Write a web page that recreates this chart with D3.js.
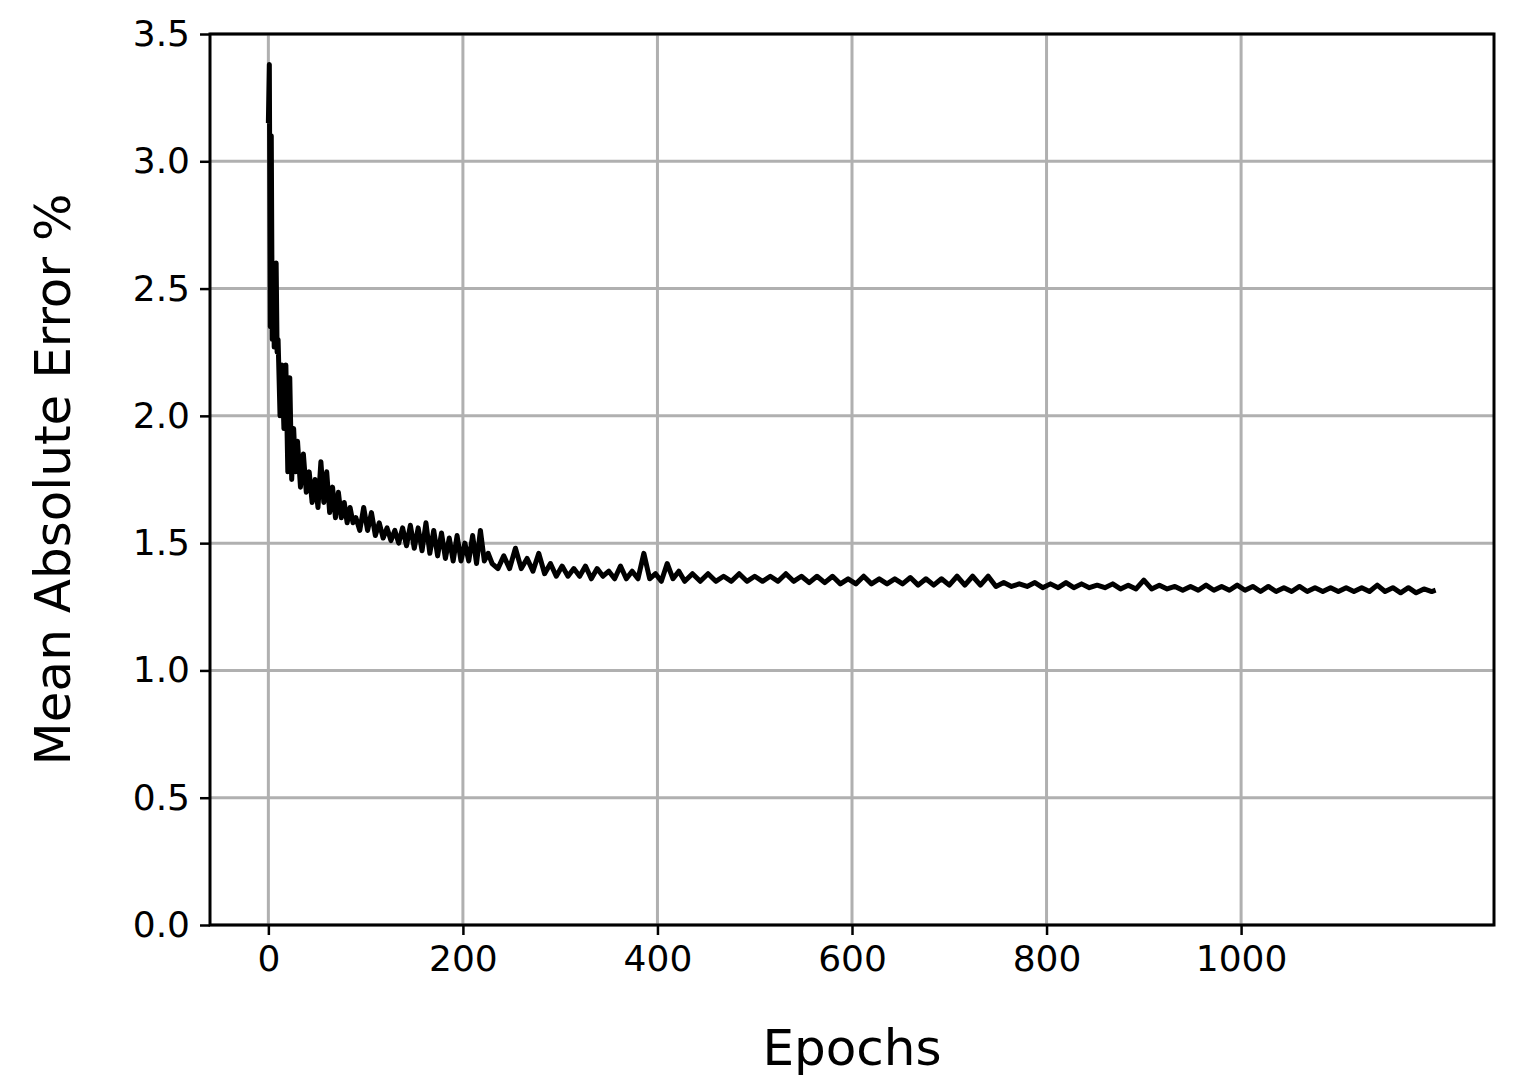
<!DOCTYPE html>
<html>
<head>
<meta charset="UTF-8">
<script src="https://d3js.org/d3.v7.min.js"></script>
<style>
  body { margin: 0; background: #fff; }
  text { font-family: "DejaVu Sans", sans-serif; }
</style>
</head>
<body>
<div class="chart"></div>
<script>
// values
var epochs = [0,1,2,3,4,5,6,7,8,9,10,12,14,16,18,20,22,24,26,28,30,33,36,39,42,45,48,51,54,57,60,63,66,69,72,75,78,81,84,87,90,94,98,102,106,110,114,118,122,126,130,134,138,142,146,150,154,158,162,166,170,174,178,182,186,190,194,198,202,206,210,214,218,222,226,230,
  236,242,248,254,260,266,272,278,284,290,296,302,308,314,320,326,332,338,344,350,356,362,368,374,380,386,392,398,404,410,416,422,
  428,436,444,452,460,468,476,484,492,500,508,516,524,532,540,548,556,564,572,580,588,596,604,612,620,628,636,644,652,660,668,676,684,692,700,708,716,724,732,740,748,756,764,772,780,788,796,804,812,820,828,836,844,852,860,868,876,884,892,900,908,916,924,932,940,948,956,964,972,980,988,996,1004,1012,1020,1028,1036,1044,1052,1060,1068,1076,1084,1092,1100,1108,1116,1124,1132,1140,1148,1156,1164,1172,1180,1188,1196,1200];
var mae = [3.15,3.38,2.35,3.1,2.3,2.6,2.27,2.55,2.6,2.25,2.3,2.0,2.2,1.95,2.2,1.78,2.15,1.75,1.95,1.78,1.9,1.72,1.85,1.7,1.78,1.66,1.75,1.64,1.82,1.66,1.78,1.62,1.72,1.6,1.7,1.6,1.66,1.58,1.64,1.58,1.6,1.55,1.64,1.55,1.62,1.53,1.58,1.52,1.56,1.51,1.55,1.5,1.56,1.49,1.57,1.48,1.56,1.47,1.58,1.46,1.55,1.45,1.54,1.44,1.52,1.43,1.53,1.43,1.5,1.43,1.53,1.42,1.55,1.43,1.46,1.42,
  1.40,1.45,1.40,1.48,1.40,1.44,1.39,1.46,1.38,1.42,1.37,1.41,1.37,1.40,1.37,1.41,1.36,1.40,1.37,1.39,1.36,1.41,1.36,1.39,1.36,1.46,1.36,1.38,1.35,1.42,1.36,1.39,
  1.35,1.38,1.35,1.38,1.35,1.37,1.35,1.38,1.35,1.37,1.35,1.37,1.35,1.38,1.35,1.37,1.345,1.37,1.345,1.37,1.34,1.36,1.34,1.37,1.34,1.36,1.34,1.36,1.34,1.365,1.335,1.36,1.335,1.36,1.335,1.37,1.335,1.37,1.335,1.37,1.33,1.345,1.33,1.34,1.33,1.345,1.325,1.34,1.325,1.345,1.325,1.34,1.325,1.335,1.325,1.34,1.32,1.335,1.32,1.355,1.32,1.335,1.32,1.33,1.315,1.33,1.315,1.335,1.315,1.33,1.315,1.335,1.315,1.33,1.31,1.33,1.31,1.325,1.31,1.33,1.31,1.325,1.31,1.325,1.31,1.325,1.31,1.325,1.31,1.335,1.31,1.325,1.305,1.325,1.305,1.32,1.31,1.315];
var xTicks = [0,200,400,600,800,1000];
var yTicks = [0,0.5,1,1.5,2,2.5,3,3.5];

var width = 1513, height = 1091;
var pl = 210, pr = 1494, pt = 34, pb = 925;

var svg = d3.select(".chart").append("svg")
  .attr("width", width).attr("height", height);

var x = d3.scaleLinear().domain([-60, 1260]).range([pl, pr]);
var y = d3.scaleLinear().domain([0, 3.5]).range([pb, pt]);

// grid
svg.append("g").selectAll("line").data(xTicks).enter().append("line")
  .attr("x1", d => x(d)).attr("x2", d => x(d)).attr("y1", pt).attr("y2", pb)
  .attr("stroke", "#b0b0b0").attr("stroke-width", 3);
svg.append("g").selectAll("line").data(yTicks).enter().append("line")
  .attr("y1", d => y(d)).attr("y2", d => y(d)).attr("x1", pl).attr("x2", pr)
  .attr("stroke", "#b0b0b0").attr("stroke-width", 3);

// data line
var pts = epochs.map((e, i) => [e, mae[i]]);
svg.append("path").datum(pts)
  .attr("fill", "none").attr("stroke", "#000").attr("stroke-width", 5)
  .attr("stroke-linejoin", "round")
  .attr("d", d3.line().x(d => x(d[0])).y(d => y(d[1])));

// axes
var xa = svg.append("g").attr("transform", "translate(0," + pb + ")")
  .call(d3.axisBottom(x).tickValues(xTicks).tickFormat(d3.format("d")).tickSize(10).tickPadding(10).tickSizeOuter(0));
var ya = svg.append("g").attr("transform", "translate(" + pl + ",0)")
  .call(d3.axisLeft(y).tickValues(yTicks).tickFormat(d3.format(".1f")).tickSize(10).tickPadding(10).tickSizeOuter(0));
[xa, ya].forEach(function(a) {
  a.select(".domain").remove();
  a.selectAll("line").attr("stroke", "#000").attr("stroke-width", 2.5);
  a.selectAll("text").attr("font-size", 36).attr("fill", "#000").attr("font-family", "DejaVu Sans");
});

svg.append("rect").attr("x", pl).attr("y", pt)
  .attr("width", pr - pl).attr("height", pb - pt)
  .attr("fill", "none").attr("stroke", "#000").attr("stroke-width", 3);

svg.append("text").attr("x", (pl + pr) / 2).attr("y", 1065)
  .attr("text-anchor", "middle").attr("font-size", 50).text("Epochs");
svg.append("text").attr("transform", "translate(70," + (pt + pb) / 2 + ") rotate(-90)")
  .attr("text-anchor", "middle").attr("font-size", 50).text("Mean Absolute Error %");
</script>
</body>
</html>
